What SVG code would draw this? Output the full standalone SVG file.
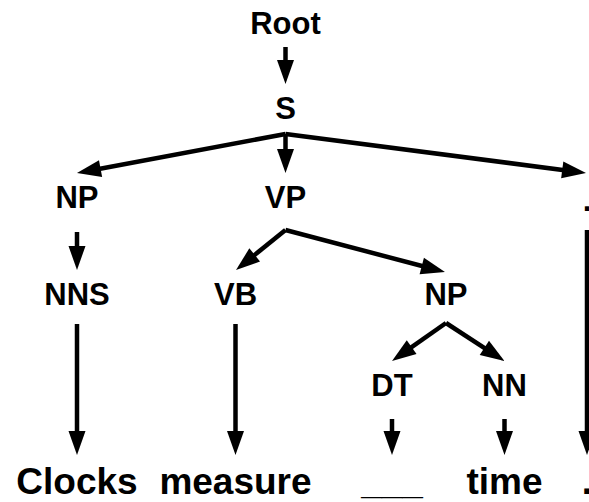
<svg xmlns="http://www.w3.org/2000/svg" width="589" height="502" viewBox="0 0 589 502">
<defs>
<style>
.lbl{font-family:"Liberation Sans",Arial,Helvetica,sans-serif;font-weight:bold;font-size:31px;fill:#000;text-anchor:middle}
.word{font-family:"Liberation Sans",Arial,Helvetica,sans-serif;font-weight:bold;font-size:37px;fill:#000;text-anchor:middle}
.edge{fill:none;stroke:#000;stroke-width:4.5;stroke-linejoin:miter}
</style>
<marker id="ah" markerUnits="userSpaceOnUse" markerWidth="26" markerHeight="18" refX="14" refY="8.5" orient="auto" overflow="visible">
<path d="M0,0 L24,8.5 L0,17 Z" fill="#000"/>
</marker>
</defs>
<rect width="589" height="502" fill="#fff"/>
<g id="connectors">
<path class="edge" marker-end="url(#ah)" d="M285.5,47 V74"/>
<path class="edge" marker-end="url(#ah)" d="M285.5,134 L86.8,171.2"/>
<path class="edge" marker-end="url(#ah)" d="M285.5,134 V163"/>
<path class="edge" marker-end="url(#ah)" d="M285.5,134 L576.1,171.7"/>
<path class="edge" marker-end="url(#ah)" d="M77,232 V260"/>
<path class="edge" marker-end="url(#ah)" d="M285.5,230 L243.8,263.7"/>
<path class="edge" marker-end="url(#ah)" d="M285.5,230 L435.3,269.5"/>
<path class="edge" marker-end="url(#ah)" d="M446,323 L400.2,355.2"/>
<path class="edge" marker-end="url(#ah)" d="M446,323 L496.1,355.6"/>
<path class="edge" marker-end="url(#ah)" d="M77,324 V445"/>
<path class="edge" marker-end="url(#ah)" d="M235.5,324 V445"/>
<path class="edge" marker-end="url(#ah)" d="M392,419 V445"/>
<path class="edge" marker-end="url(#ah)" d="M504.5,419 V445"/>
<path class="edge" marker-end="url(#ah)" d="M587,230 V445"/>
</g>
<g id="root"><text class="lbl" x="285.5" y="34">Root</text></g>
<g id="s"><text class="lbl" x="285.5" y="119">S</text></g>
<g id="np1"><text class="lbl" x="77" y="207.5">NP</text></g>
<g id="vp"><text class="lbl" x="285.5" y="207.5">VP</text></g>
<g id="punct"><text class="lbl" x="587" y="211">.</text></g>
<g id="nns"><text class="lbl" x="77" y="305">NNS</text></g>
<g id="vb"><text class="lbl" x="235.5" y="305">VB</text></g>
<g id="np2"><text class="lbl" x="446" y="305">NP</text></g>
<g id="dt"><text class="lbl" x="392" y="396">DT</text></g>
<g id="nn"><text class="lbl" x="504.5" y="396">NN</text></g>
<g id="w-clocks"><text class="word" x="77" y="494">Clocks</text></g>
<g id="w-measure"><text class="word" x="235.5" y="494">measure</text></g>
<g id="w-blank"><text class="word" x="392" y="494">___</text></g>
<g id="w-time"><text class="word" x="504.5" y="494">time</text></g>
<g id="w-period"><text class="word" x="587" y="494">.</text></g>
</svg>
